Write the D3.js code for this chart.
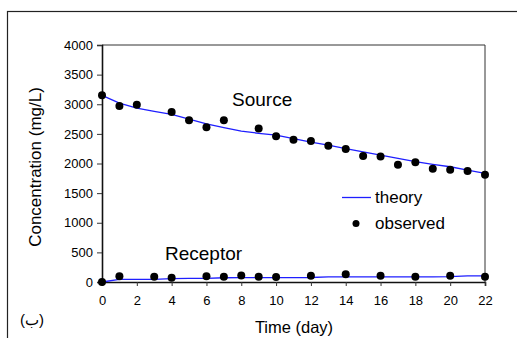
<!DOCTYPE html>
<html>
<head>
<meta charset="utf-8">
<script src="https://cdn.jsdelivr.net/npm/d3@7"></script>
<style>
  body { margin: 0; background: #fff; }
  svg text { font-family: "Liberation Sans", Arial, sans-serif; fill: #000; }
</style>
</head>
<body>
<svg id="chart" width="517" height="338"></svg>
<script>
// observed data, source reservoir
var srcDays = [0, 1, 2, 4, 5, 6, 7, 9, 10, 11, 12, 13, 14, 15, 16, 17, 18, 19, 20, 21, 22];
var srcObs  = [3150, 2970, 2990, 2870, 2730, 2610, 2730, 2590, 2460, 2400, 2380, 2300, 2245, 2125, 2120, 1980, 2020, 1910, 1895, 1875, 1810];

// observed data, receptor reservoir
var recDays = [0, 1, 3, 4, 6, 7, 8, 9, 10, 12, 14, 16, 18, 20, 22];
var recObs  = [0, 95, 90, 70, 95, 90, 110, 90, 85, 105, 130, 105, 90, 105, 90];

// theory curves
var thDays   = [0, 1, 2, 3, 4, 5, 6, 7, 8, 9, 10, 11, 12, 13, 14, 15, 16, 17, 18, 19, 20, 21, 22];
var thSource = [3150, 3020, 2935, 2880, 2830, 2750, 2670, 2605, 2545, 2510, 2480, 2420, 2360, 2310, 2250, 2195, 2140, 2085, 2030, 1985, 1945, 1890, 1835];
var thRecep  = [0, 45, 45, 45, 58, 60, 60, 72, 74, 75, 75, 75, 76, 88, 88, 88, 88, 88, 88, 88, 90, 102, 102];

var xTicks = [0, 2, 4, 6, 8, 10, 12, 14, 16, 18, 20, 22];
var yTicks = [0, 500, 1000, 1500, 2000, 2500, 3000, 3500, 4000];

var svg = d3.select('#chart');

// outer frame
svg.append('rect')
    .attr('x', 7.5).attr('y', 11.5).attr('width', 540).attr('height', 340)
    .attr('fill', 'none').attr('stroke', '#222').attr('stroke-width', 1.2);

var x = d3.scaleLinear().domain([0, 22]).range([102, 485]);
var y = d3.scaleLinear().domain([0, 4000]).range([282, 45]);

// top and right frame of plot
svg.append('path')
    .attr('d', 'M' + x(0) + ',' + y(4000) + 'H' + x(22) + 'V' + y(0))
    .attr('fill', 'none').attr('stroke', '#333').attr('stroke-width', 1);

var xAxis = svg.append('g')
    .attr('transform', 'translate(0,' + y(0) + ')')
    .call(d3.axisBottom(x).tickValues(xTicks).tickSize(4).tickPadding(10));
var yAxis = svg.append('g')
    .attr('transform', 'translate(' + x(0) + ',0)')
    .call(d3.axisLeft(y).tickValues(yTicks).tickSize(5).tickPadding(4).tickFormat(d3.format('d')));

[xAxis, yAxis].forEach(function (g) {
    g.select('.domain').attr('stroke', '#111').attr('stroke-width', 1.6);
    g.selectAll('.tick line').attr('stroke', '#333');
    g.selectAll('.tick text').style('font-size', '13px')
        .style('font-family', '"Liberation Sans", Arial, sans-serif');
});

// theory lines
var line = d3.line()
    .x(function (d) { return x(d[0]); })
    .y(function (d) { return y(d[1]); });

[thSource, thRecep].forEach(function (vals) {
    svg.append('path')
        .datum(thDays.map(function (d, i) { return [d, vals[i]]; }))
        .attr('d', line)
        .attr('fill', 'none').attr('stroke', '#1f1fff').attr('stroke-width', 1.3);
});

// observed points
function dots(days, vals) {
    svg.append('g').selectAll('circle')
        .data(days.map(function (d, i) { return [d, vals[i]]; }))
        .enter().append('circle')
        .attr('cx', function (d) { return x(d[0]); })
        .attr('cy', function (d) { return y(d[1]); })
        .attr('r', 4)
        .attr('fill', '#000');
}
dots(srcDays, srcObs);
dots(recDays, recObs);

// labels
svg.append('text').attr('x', 232).attr('y', 106).style('font-size', '19px').text('Source');
svg.append('text').attr('x', 165).attr('y', 260).style('font-size', '19px').text('Receptor');

// legend
svg.append('line').attr('x1', 342).attr('x2', 371).attr('y1', 197.5).attr('y2', 197.5)
    .attr('stroke', '#1f1fff').attr('stroke-width', 1.3);
svg.append('text').attr('x', 375).attr('y', 203).style('font-size', '17px').text('theory');
svg.append('circle').attr('cx', 356).attr('cy', 223.5).attr('r', 3.5).attr('fill', '#000');
svg.append('text').attr('x', 375).attr('y', 229).style('font-size', '17px').text('observed');

// axis titles
svg.append('text').attr('x', 294).attr('y', 333).attr('text-anchor', 'middle')
    .style('font-size', '16.5px').text('Time (day)');
svg.append('text').attr('transform', 'translate(41,167) rotate(-90)')
    .attr('text-anchor', 'middle').style('font-size', '17px').text('Concentration (mg/L)');

svg.append('text').attr('x', 20).attr('y', 325).style('font-size', '15px').text('(ب)');
</script>
</body>
</html>
